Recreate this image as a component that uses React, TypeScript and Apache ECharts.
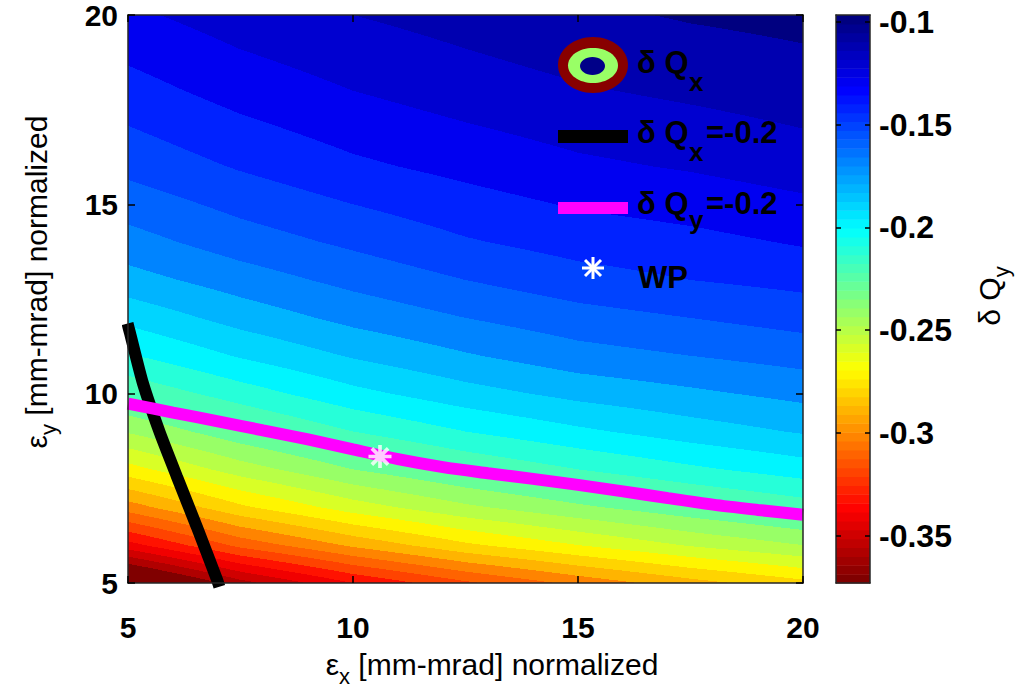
import React, { useEffect, useRef } from "react";
import * as echarts from "echarts";

// Grid of the filled-contour field (δQy)
const xGrid = [5, 7.5, 10, 12.5, 15, 17.5, 20];
const yGrid = [5, 6, 7, 8, 9, 10, 11, 12, 13, 14, 16, 18, 20];
// one row per yGrid entry (bottom to top), columns follow xGrid
const dQyRows = [
  [-0.387, -0.354, -0.330, -0.312, -0.297, -0.284, -0.273],
  [-0.334, -0.307, -0.288, -0.272, -0.260, -0.249, -0.240],
  [-0.295, -0.272, -0.255, -0.242, -0.232, -0.223, -0.215],
  [-0.264, -0.245, -0.230, -0.219, -0.210, -0.202, -0.195],
  [-0.239, -0.223, -0.210, -0.200, -0.192, -0.185, -0.179],
  [-0.218, -0.205, -0.193, -0.184, -0.177, -0.172, -0.167],
  [-0.201, -0.189, -0.179, -0.171, -0.164, -0.160, -0.156],
  [-0.187, -0.176, -0.167, -0.160, -0.154, -0.150, -0.146],
  [-0.174, -0.165, -0.157, -0.150, -0.144, -0.140, -0.137],
  [-0.164, -0.155, -0.148, -0.141, -0.136, -0.133, -0.129],
  [-0.147, -0.139, -0.132, -0.127, -0.122, -0.119, -0.115],
  [-0.134, -0.126, -0.120, -0.115, -0.111, -0.108, -0.105],
  [-0.122, -0.115, -0.110, -0.106, -0.102, -0.099, -0.097],
];
const levelStep = 0.01;

// δQx = -0.2 contour (black)
const dQxLine = [
  [4.99, 11.85], [5.04, 11.62], [5.33, 10.28], [5.71, 8.96],
  [6.09, 7.8], [6.53, 6.48], [6.98, 5.08], [7.03, 4.9],
];
// δQy = -0.2 contour (magenta)
const dQyLine = [
  [5, 9.74], [6, 9.5], [7, 9.27], [8, 9.03], [9, 8.79], [10, 8.53],
  [11, 8.27], [12, 8.06], [13, 7.9], [14, 7.75], [15, 7.59], [16, 7.42],
  [17, 7.24], [18, 7.07], [19, 6.93], [20, 6.8],
];
// working point
const wpPoint = [[10.6, 8.34]];

// colour bar
const cbRange = [-0.373, -0.0966];
const cbTicks = [-0.35, -0.3, -0.25, -0.2, -0.15, -0.1];

const FONT = "'Liberation Sans', Arial, Helvetica, sans-serif";

function jet(s: number): string {
  const cl = (v: number) => Math.max(0, Math.min(1, v));
  const r = cl(1.5 - Math.abs(4 * s - 3));
  const g = cl(1.5 - Math.abs(4 * s - 2));
  const b = cl(1.5 - Math.abs(4 * s - 1));
  return `rgb(${Math.round(r * 255)},${Math.round(g * 255)},${Math.round(b * 255)})`;
}
// flipped jet(64): lowest value -> dark red, highest -> dark blue
const cmap = Array.from({ length: 64 }, (_, k) => jet(1 - k / 63));
function colorOfValue(v: number): string {
  const u = (v - cbRange[0]) / (cbRange[1] - cbRange[0]);
  const k = Math.max(0, Math.min(63, Math.floor(u * 64)));
  return cmap[k];
}
function bandColor(v: number): string {
  const L = Math.floor(v / levelStep + 1e-9) * levelStep;
  return colorOfValue(L);
}

const cells: number[][] = [];
for (let j = 0; j < yGrid.length - 1; j++) {
  for (let i = 0; i < xGrid.length - 1; i++) cells.push([i, j]);
}

const starPath =
  "path://M-10,-1.6L10,-1.6L10,1.6L-10,1.6Z M-1.6,-10L1.6,-10L1.6,10L-1.6,10Z M-5.94,-8.2L8.2,5.94L5.94,8.2L-8.2,-5.94Z M5.94,-8.2L8.2,-5.94L-5.94,8.2L-8.2,5.94Z";

function buildOption(): any {
  const axisLine = { show: true, onZero: false, lineStyle: { color: "#262626", width: 1.5 } };
  const tick = { show: true, inside: true, length: 7, lineStyle: { color: "#000", width: 1.5 } };
  const tickLabel = { fontSize: 30, lineHeight: 24, fontWeight: "bold", color: "#000", fontFamily: FONT };

  const legendText = (text: string, x: number, y: number, size = 31) => ({
    type: "text",
    x,
    y,
    z: 100,
    style: {
      text,
      fontSize: size,
      fontWeight: "bold",
      fontFamily: FONT,
      fill: "#000",
      align: "left",
      verticalAlign: "middle",
      textAlign: "left",
      textVerticalAlign: "middle",
    },
  });

  const titleRich = {
    a: { fontSize: 30, fontFamily: FONT, lineHeight: 32, verticalAlign: "top", fill: "#000" },
    s: { fontSize: 22, fontFamily: FONT, lineHeight: 18, padding: [16, 0, 0, 0], verticalAlign: "top", fill: "#000" },
  };

  return {
    animation: false,
    backgroundColor: "#fff",
    grid: [
      { left: 128, top: 15, width: 675, height: 568 },
      { left: 836, top: 15, width: 34, height: 568 },
    ],
    xAxis: [
      {
        gridIndex: 0, type: "value", min: 5, max: 20, interval: 5, position: "bottom", z: 10,
        axisLine, axisTick: tick, axisLabel: { ...tickLabel, margin: 32 }, splitLine: { show: false },
      },
      {
        gridIndex: 0, type: "value", min: 5, max: 20, interval: 5, position: "top", z: 10,
        axisLine, axisTick: tick, axisLabel: { show: false }, splitLine: { show: false },
      },
      {
        gridIndex: 1, type: "value", min: 0, max: 1, position: "bottom", z: 10,
        axisLine, axisTick: { show: false }, axisLabel: { show: false }, splitLine: { show: false },
      },
      {
        gridIndex: 1, type: "value", min: 0, max: 1, position: "top", z: 10,
        axisLine, axisTick: { show: false }, axisLabel: { show: false }, splitLine: { show: false },
      },
    ],
    yAxis: [
      {
        gridIndex: 0, type: "value", min: 5, max: 20, interval: 5, position: "left", z: 10,
        axisLine, axisTick: tick, axisLabel: { ...tickLabel, margin: 10 }, splitLine: { show: false },
      },
      {
        gridIndex: 0, type: "value", min: 5, max: 20, interval: 5, position: "right", z: 10,
        axisLine, axisTick: tick, axisLabel: { show: false }, splitLine: { show: false },
      },
      {
        gridIndex: 1, type: "value", min: cbRange[0], max: cbRange[1], position: "right", z: 10,
        axisLine,
        axisTick: { show: true, inside: true, length: 5, customValues: cbTicks, lineStyle: { color: "#000", width: 1.5 } },
        axisLabel: { ...tickLabel, fontSize: 32, margin: 9, customValues: cbTicks, formatter: (v: number) => String(v) },
        splitLine: { show: false },
      },
      {
        gridIndex: 1, type: "value", min: cbRange[0], max: cbRange[1], position: "left", z: 10,
        axisLine,
        axisTick: { show: true, inside: true, length: 5, customValues: cbTicks, lineStyle: { color: "#000", width: 1.5 } },
        axisLabel: { show: false },
        splitLine: { show: false },
      },
    ],
    series: [
      {
        type: "custom",
        name: "dQy field",
        xAxisIndex: 0,
        yAxisIndex: 0,
        silent: true,
        z: 1,
        data: cells,
        renderItem: (params: any, api: any) => {
          const i = api.value(0) as number;
          const j = api.value(1) as number;
          const pLB = api.coord([xGrid[i], yGrid[j]]);
          const pRT = api.coord([xGrid[i + 1], yGrid[j + 1]]);
          const x0 = Math.round(pLB[0]);
          const x1 = Math.round(pRT[0]);
          const yTop = Math.round(pRT[1]);
          const yBot = Math.round(pLB[1]);
          const v00 = dQyRows[j][i];
          const v10 = dQyRows[j][i + 1];
          const v01 = dQyRows[j + 1][i];
          const v11 = dQyRows[j + 1][i + 1];
          const children: any[] = [];
          const push = (x: number, y: number, w: number, c: string) =>
            children.push({ type: "rect", silent: true, shape: { x, y, width: w, height: 1 }, style: { fill: c } });
          for (let py = yTop; py < yBot; py++) {
            const fy = (pLB[1] - (py + 0.5)) / (pLB[1] - pRT[1]);
            let start = x0;
            let cur = "";
            for (let px = x0; px < x1; px++) {
              const fx = (px + 0.5 - pLB[0]) / (pRT[0] - pLB[0]);
              const v = (v00 * (1 - fx) + v10 * fx) * (1 - fy) + (v01 * (1 - fx) + v11 * fx) * fy;
              const c = bandColor(v);
              if (c !== cur) {
                if (cur) push(start, py, px - start, cur);
                cur = c;
                start = px;
              }
            }
            if (cur) push(start, py, x1 - start, cur);
          }
          return { type: "group", children };
        },
      },
      {
        type: "line",
        name: "dQx=-0.2",
        xAxisIndex: 0,
        yAxisIndex: 0,
        data: dQxLine,
        symbol: "none",
        smooth: 0.2,
        z: 3,
        lineStyle: { color: "#000", width: 12 },
      },
      {
        type: "line",
        name: "dQy=-0.2",
        xAxisIndex: 0,
        yAxisIndex: 0,
        data: dQyLine,
        symbol: "none",
        smooth: 0.3,
        z: 3,
        lineStyle: { color: "#ff00ff", width: 12 },
      },
      {
        type: "scatter",
        name: "WP",
        xAxisIndex: 0,
        yAxisIndex: 0,
        data: wpPoint,
        symbol: starPath,
        symbolSize: 23,
        z: 4,
        itemStyle: { color: "#ffffff" },
      },
      {
        type: "custom",
        name: "colorbar",
        xAxisIndex: 2,
        yAxisIndex: 2,
        silent: true,
        z: 1,
        data: cmap.map((_, k) => [k]),
        renderItem: (params: any, api: any) => {
          const k = api.value(0) as number;
          const span = cbRange[1] - cbRange[0];
          const va = cbRange[0] + (k / 64) * span;
          const vb = cbRange[0] + ((k + 1) / 64) * span;
          const pa = api.coord([0, va]);
          const pb = api.coord([1, vb]);
          return {
            type: "rect",
            shape: { x: pa[0], y: pb[1], width: pb[0] - pa[0], height: pa[1] - pb[1] + 0.6 },
            style: { fill: cmap[k] },
          };
        },
      },
    ],
    graphic: [
      // legend: δQx ring icon
      { type: "ellipse", z: 100, shape: { cx: 593, cy: 65, rx: 35, ry: 28 }, style: { fill: "#880000" } },
      { type: "ellipse", z: 101, shape: { cx: 593, cy: 65.5, rx: 25, ry: 17.5 }, style: { fill: "#99ff66" } },
      { type: "ellipse", z: 102, shape: { cx: 592.5, cy: 66, rx: 12.5, ry: 9 }, style: { fill: "#000088" } },
      legendText("δ Q", 637, 62),
      legendText("x", 689, 82, 26),
      // legend: δQx = -0.2
      { type: "rect", z: 100, shape: { x: 558, y: 130, width: 70, height: 13 }, style: { fill: "#000" } },
      legendText("δ Q", 637, 132),
      legendText("x", 689, 152, 26),
      legendText("=-0.2", 706, 132),
      // legend: δQy = -0.2
      { type: "rect", z: 100, shape: { x: 558, y: 202, width: 70, height: 12 }, style: { fill: "#ff00ff" } },
      legendText("δ Q", 637, 203),
      legendText("y", 689, 220, 26),
      legendText("=-0.2", 706, 203),
      // legend: WP
      { type: "line", z: 100, shape: { x1: 582, y1: 268, x2: 604, y2: 268 }, style: { stroke: "#fff", lineWidth: 3 } },
      { type: "line", z: 100, shape: { x1: 593, y1: 257, x2: 593, y2: 279 }, style: { stroke: "#fff", lineWidth: 3 } },
      { type: "line", z: 100, shape: { x1: 585, y1: 260, x2: 601, y2: 276 }, style: { stroke: "#fff", lineWidth: 3 } },
      { type: "line", z: 100, shape: { x1: 601, y1: 260, x2: 585, y2: 276 }, style: { stroke: "#fff", lineWidth: 3 } },
      legendText("WP", 638, 277),
      // axis titles
      {
        type: "text", z: 100, x: 492, y: 665,
        style: { text: "{a|ε}{s|x}{a| [mm-mrad] normalized}", rich: titleRich, align: "center", verticalAlign: "middle", fill: "#000" },
      },
      {
        type: "text", z: 100, x: 37, y: 282, rotation: Math.PI / 2,
        style: { text: "{a|ε}{s|y}{a| [mm-mrad] normalized}", rich: titleRich, align: "center", verticalAlign: "middle", fill: "#000" },
      },
      {
        type: "text", z: 100, x: 990, y: 296, rotation: Math.PI / 2,
        style: { text: "{a|δ Q}{s|y}", rich: titleRich, align: "center", verticalAlign: "middle", fill: "#000" },
      },
    ],
  };
}

export default function App() {
  const ref = useRef<HTMLDivElement>(null);
  useEffect(() => {
    const el = ref.current;
    if (!el) return;
    const chart = echarts.init(el, null, { renderer: "svg" });
    chart.setOption(buildOption());
    return () => chart.dispose();
  }, []);
  return (
    <div
      ref={ref}
      style={{ position: "absolute", left: 0, top: 0, width: 1023, height: 688, background: "#fff" }}
    />
  );
}
